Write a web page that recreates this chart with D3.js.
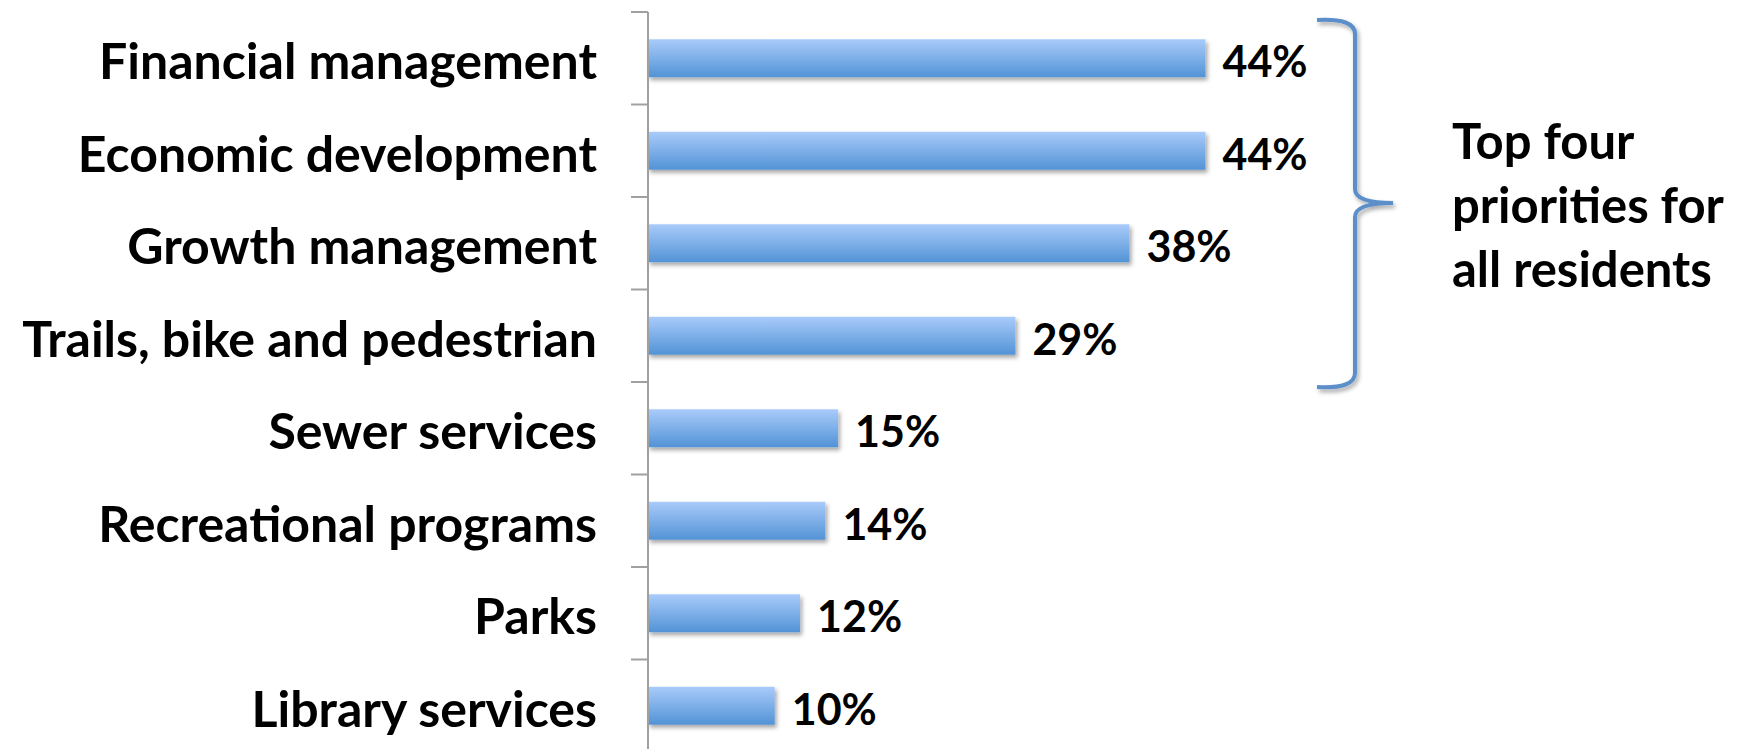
<!DOCTYPE html>
<html lang="en">
<head>
<meta charset="utf-8">
<title>Top priorities</title>
<script src="https://cdn.jsdelivr.net/npm/d3@7"></script>
<style>
  body { margin: 0; background: #fff; }
  text { font-family: Lato, "Open Sans", sans-serif; font-weight: bold; fill: #000; }
</style>
</head>
<body>
<script>
// Data
var categories = ["Financial management", "Economic development", "Growth management",
  "Trails, bike and pedestrian", "Sewer services", "Recreational programs", "Parks", "Library services"];
var values = [44, 44, 38, 29, 15, 14, 12, 10];
var noteLines = ["Top four", "priorities for", "all residents"];

var w = 1745, h = 749;
var axisX = 648;

var svg = d3.select("body").append("svg")
  .attr("width", w)
  .attr("height", h);

var defs = svg.append("defs");
var grad = defs.append("linearGradient")
  .attr("id", "barGrad")
  .attr("x1", 0).attr("y1", 0).attr("x2", 0).attr("y2", 1);
grad.append("stop").attr("offset", "0%").attr("stop-color", "#a9cbfa");
grad.append("stop").attr("offset", "100%").attr("stop-color", "#5293d6");

var shadow = defs.append("filter")
  .attr("id", "shadow")
  .attr("x", "-5%").attr("y", "-20%").attr("width", "115%").attr("height", "160%");
shadow.append("feDropShadow")
  .attr("dx", 2).attr("dy", 3)
  .attr("stdDeviation", 2)
  .attr("flood-color", "#000")
  .attr("flood-opacity", 0.35);

// Scales
var y = d3.scaleBand()
  .domain(categories)
  .range([12, 752])
  .paddingInner(0.59)
  .paddingOuter(0.295);

var x = d3.scaleLinear()
  .domain([0, 50])
  .range([axisX, axisX + 633.5]);

// Bars
svg.selectAll("rect.bar")
  .data(values)
  .enter()
  .append("rect")
  .attr("class", "bar")
  .attr("x", x(0))
  .attr("y", function(d, i) { return y(categories[i]); })
  .attr("width", function(d) { return x(d) - x(0); })
  .attr("height", y.bandwidth())
  .attr("fill", "url(#barGrad)")
  .attr("filter", "url(#shadow)");

// Axis line and ticks between categories
var step = y.step();
var tickYs = categories.map(function(c) { return y(c) - y.paddingInner() * step / 2; });

svg.append("line")
  .attr("x1", axisX).attr("x2", axisX)
  .attr("y1", tickYs[0]).attr("y2", h)
  .attr("stroke", "#a0a0a0")
  .attr("stroke-width", 2);

svg.selectAll("line.tick")
  .data(tickYs)
  .enter()
  .append("line")
  .attr("class", "tick")
  .attr("x1", axisX - 17).attr("x2", axisX)
  .attr("y1", function(d) { return d; })
  .attr("y2", function(d) { return d; })
  .attr("stroke", "#a0a0a0")
  .attr("stroke-width", 2);

// Category labels
svg.selectAll("text.cat")
  .data(categories)
  .enter()
  .append("text")
  .attr("class", "cat")
  .attr("x", 597)
  .attr("y", function(d) { return y(d) + y.bandwidth() / 2 + 21; })
  .attr("text-anchor", "end")
  .style("font-size", "50px")
  .text(function(d) { return d; });

// Value labels
svg.selectAll("text.val")
  .data(values)
  .enter()
  .append("text")
  .attr("class", "val")
  .attr("x", function(d) { return x(d) + 17; })
  .attr("y", function(d, i) { return y(categories[i]) + y.bandwidth() / 2 + 19; })
  .style("font-size", "43px")
  .text(function(d) { return d + "%"; });

// Brace around the top four
var braceTop = 20, braceBot = 387, braceMid = 203;
var bx = 1355, hookX = 1317, tipX = 1393;
var brace = d3.path();
brace.moveTo(hookX, braceTop);
brace.quadraticCurveTo(bx, braceTop - 2, bx, braceTop + 14);
brace.lineTo(bx, braceMid - 14);
brace.quadraticCurveTo(bx, braceMid, tipX, braceMid);
brace.quadraticCurveTo(bx, braceMid, bx, braceMid + 14);
brace.lineTo(bx, braceBot - 14);
brace.quadraticCurveTo(bx, braceBot + 2, hookX, braceBot);

svg.append("path")
  .attr("d", brace.toString())
  .attr("fill", "none")
  .attr("stroke", "#5b8fc9")
  .attr("stroke-width", 4)
  .attr("filter", "url(#shadow)");

// Note text
svg.selectAll("text.note")
  .data(noteLines)
  .enter()
  .append("text")
  .attr("class", "note")
  .attr("x", 1452)
  .attr("y", function(d, i) { return 159 + i * 64; })
  .style("font-size", "49px")
  .text(function(d) { return d; });
</script>
</body>
</html>
